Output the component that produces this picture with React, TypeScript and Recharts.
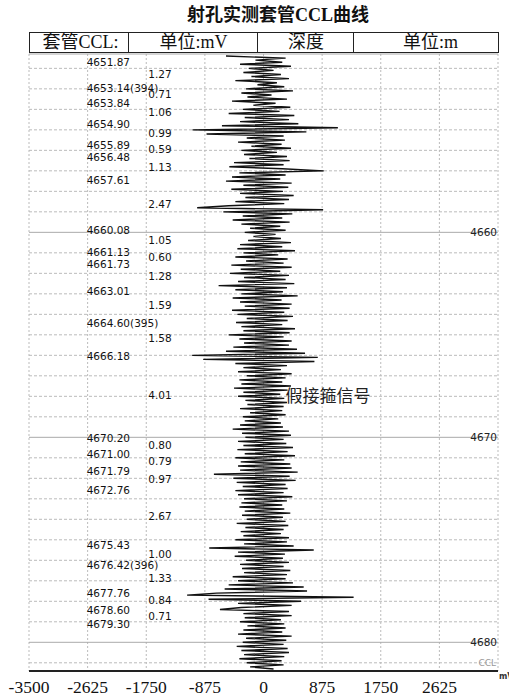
import { LineChart, Line, XAxis, YAxis, CartesianGrid, ReferenceLine, ReferenceDot } from 'recharts'

// CCL samples, one every 0.1 m starting at 4651.4 m (mV), one row per metre
const cclStart = 4651.4
const cclStep = 0.1
const cclValues = [
  -560, 330, -120, 280, -350, 410, -220, 150, -300, 260,
  -180, 380, -420, 200, -90, 310, -260, 440, -330, 120,
  -240, 350, -470, 180, -150, 400, -310, 240, -520, 460,
  -280, 380, -350, 520, -620, 1110, -1060, 640, -850, 300,
  -250, 320, -380, 270, -180, 410, -330, 200, -290, 350,
  -210, 390, -440, 300, -510, 280, 900, -360, 330, -470,
  250, -560, 420, -300, 370, -480, 290, -350, 450, -270,
  380, -420, 310, -520, -990, 890, -600, 430, -310, 280,
  -460, 390, -330, 250, -200, 330, -280, 180, -150, 260,
  -230, 410, -350, 280, -390, 470, -300, 220, -420, 360,
  -260, 300, -480, 420, -340, 250, -500, 380, -290, 330,
  -380, 460, -670, 350, -420, 290, -330, 510, -460, 270,
  -350, 420, -280, 390, -470, 310, -390, 440, -250, 360,
  -410, 280, -330, 470, -300, 390, -520, 300, -360, 420,
  -290, 380, -450, 500, -560, 620, -1065, 810, -900, 760,
  -420, 350, -300, 260, -380, 420, -250, 330, -360, 280,
  -330, 410, -440, 360, -300, 250, -380, 310, -270, 350,
  -240, 300, -350, 280, -200, 330, -310, 220, -280, 260,
  -350, 290, -460, 380, -320, 410, -270, 300, -380, 340,
  -300, 440, -390, 360, -280, 470, -420, 310, -340, 400,
  -380, 420, -350, 510, -740, 390, -450, 480, -400, 330,
  -310, 360, -420, 300, -380, 430, -290, 350, -330, 280,
  -360, 310, -280, 400, -320, 290, -250, 330, -400, 370,
  -270, 300, -340, 260, -300, 380, -420, 350, -290, 450,
  -810, 750, -380, 320, -430, 290, -260, 380, -350, 300,
  -320, 400, -290, 350, -460, 330, -380, 440, -520, 600,
  -580, 650, -700, -1140, 1345, -820, 560, -380, 420, -330,
  -650, 380, -300, 420, -280, 260, -350, 310, -240, 330,
  -300, 280, -380, 420, -260, 340, -310, 300, -400, 360,
  -330, 380, -290, 310, -360, 270, -250, 300, -200, 150,
]

// collar depths (m) and their printed labels
const collarDepths = [
  4651.87, 4653.14, 4653.84, 4654.9, 4655.89, 4656.48, 4657.61, 4660.08, 4661.13, 4661.73, 4663.01,
  4664.6, 4666.18, 4670.2, 4671.0, 4671.79, 4672.76, 4675.43, 4676.42, 4677.76, 4678.6, 4679.3,
]
const collarLabels = [
  '4651.87', '4653.14(394)', '4653.84', '4654.90', '4655.89', '4656.48', '4657.61', '4660.08', '4661.13',
  '4661.73', '4663.01', '4664.60(395)', '4666.18', '4670.20', '4671.00', '4671.79', '4672.76', '4675.43',
  '4676.42(396)', '4677.76', '4678.60', '4679.30',
]
// joint lengths between consecutive collars
const intervalLabels = [
  '1.27', '0.71', '1.06', '0.99', '0.59', '1.13', '2.47', '1.05', '0.60', '1.28', '1.59',
  '1.58', '4.01', '0.80', '0.79', '0.97', '2.67', '1.00', '1.33', '0.84', '0.71',
]

const xTicks = [-3500, -2625, -1750, -875, 0, 875, 1750, 2625]
const depthTicks = [4660, 4670, 4680]
const depthDomain = [4651.3, 4681.4]
const fakeCollar = { label: '假接箍信号', depth: 4668.3, ccl: 330 }

const data = cclValues.map((v, i) => ({ depth: +(cclStart + i * cclStep).toFixed(1), ccl: v }))

const meters: number[] = []
for (let m = Math.ceil(depthDomain[0]); m <= depthDomain[1]; m++) meters.push(m)

const labelFont = "'DejaVu Sans', Verdana, sans-serif"
const serifCjk = "'Liberation Serif', 'Noto Sans CJK SC', serif"

const headerCells = [
  { text: '套管CCL:', left: 29, width: 99, shift: 4 },
  { text: '单位:mV', left: 128, width: 129, shift: 1 },
  { text: '深度', left: 257, width: 96, shift: 1 },
  { text: '单位:m', left: 353, width: 146, shift: 8 },
]

export default function App() {
  return (
    <div style={{ position: 'absolute', left: 0, top: 0, width: 509, height: 696, background: '#fff', fontFamily: serifCjk }}>
      <div style={{ position: 'absolute', left: 178, top: 4, width: 200, textAlign: 'center', fontSize: 18, fontWeight: 'bold', lineHeight: '22px', color: '#111' }}>
        射孔实测套管CCL曲线
      </div>

      <div style={{ position: 'absolute', left: 29, top: 32, width: 470, height: 21, boxSizing: 'border-box', border: '1.5px solid #222' }} />
      {headerCells.map((c, i) => (
        <div
          key={c.text}
          style={{
            position: 'absolute',
            left: c.left,
            top: 32,
            width: c.width,
            height: 21,
            boxSizing: 'border-box',
            borderLeft: i === 0 ? 'none' : '1.5px solid #222',
            textAlign: 'center',
            fontSize: 18,
            lineHeight: '21px',
            color: '#111',
            paddingLeft: c.shift,
          }}
        >
          {c.text}
        </div>
      ))}

      <LineChart
        layout="vertical"
        width={509}
        height={696}
        data={data}
        margin={{ top: 54, right: 11, bottom: 0, left: 29 }}
      >
        <CartesianGrid horizontal={false} stroke="#bbb" strokeDasharray="2 2" />
        <XAxis
          type="number"
          domain={[-3500, 3500]}
          ticks={xTicks}
          interval={0}
          allowDataOverflow
          height={25}
          tickLine={false}
          tickSize={6}
          tickMargin={4}
          axisLine={{ stroke: '#222', strokeWidth: 2 }}
          tick={{ fontSize: 17.5, fill: '#111', fontFamily: "'Liberation Serif', serif" }}
        />
        <YAxis
          yAxisId="left"
          type="number"
          dataKey="depth"
          domain={depthDomain}
          allowDataOverflow
          width={0}
          tick={false}
          tickLine={false}
          axisLine={{ stroke: '#222', strokeWidth: 2 }}
        />
        <YAxis
          yAxisId="right"
          orientation="right"
          type="number"
          dataKey="depth"
          domain={depthDomain}
          allowDataOverflow
          width={0}
          tick={false}
          tickLine={false}
          axisLine={{ stroke: '#999' }}
        />

        <ReferenceLine yAxisId="left" y={depthDomain[0]} stroke="#aaa" />
        {meters.map((m) => (
          <ReferenceLine
            key={m}
            yAxisId="left"
            y={m}
            stroke={m % 10 === 0 ? '#aaa' : '#bbb'}
            strokeDasharray={m % 10 === 0 ? undefined : '3 2'}
          />
        ))}

        <Line
          yAxisId="left"
          type="linear"
          dataKey="ccl"
          stroke="#111"
          strokeWidth={1.4}
          dot={false}
          isAnimationActive={false}
        />

        {depthTicks.map((d) => (
          <ReferenceDot
            key={'d' + d}
            yAxisId="left"
            x={3500}
            y={d}
            r={0}
            shape={(p: any) => (
              <text x={p.cx - 1} y={p.cy + 4} fontSize={10.5} fill="#222" textAnchor="end" fontFamily={labelFont}>
                {d}
              </text>
            )}
          />
        ))}
        {collarDepths.map((d, i) => (
          <ReferenceDot
            key={'c' + i}
            yAxisId="left"
            x={-2625}
            y={d}
            r={0}
            shape={(p: any) => (
              <text x={p.cx - 1} y={p.cy + 0.5} fontSize={10.5} fill="#111" fontFamily={labelFont}>
                {collarLabels[i]}
              </text>
            )}
          />
        ))}
        {intervalLabels.map((t, i) => (
          <ReferenceDot
            key={'i' + i}
            yAxisId="left"
            x={-1750}
            y={(collarDepths[i] + collarDepths[i + 1]) / 2}
            r={0}
            shape={(p: any) => (
              <text x={p.cx + 2} y={p.cy - 1} fontSize={10.5} fill="#111" fontFamily={labelFont}>
                {t}
              </text>
            )}
          />
        ))}
        <ReferenceDot
          yAxisId="left"
          x={fakeCollar.ccl}
          y={fakeCollar.depth}
          r={0}
          shape={(p: any) => (
            <text x={p.cx} y={p.cy} fontSize={17} fill="#222" fontFamily={serifCjk}>
              {fakeCollar.label}
            </text>
          )}
        />
        <ReferenceDot
          yAxisId="left"
          x={3500}
          y={4681}
          r={0}
          shape={(p: any) => (
            <text x={p.cx - 2} y={p.cy + 3} fontSize={9} fill="#999" textAnchor="end" fontFamily={labelFont}>
              CCL
            </text>
          )}
        />
      </LineChart>

      <div style={{ position: 'absolute', left: 499, top: 672, fontSize: 8, fontWeight: 'bold', color: '#333', fontFamily: labelFont, whiteSpace: 'nowrap' }}>
        mV
      </div>
    </div>
  )
}
